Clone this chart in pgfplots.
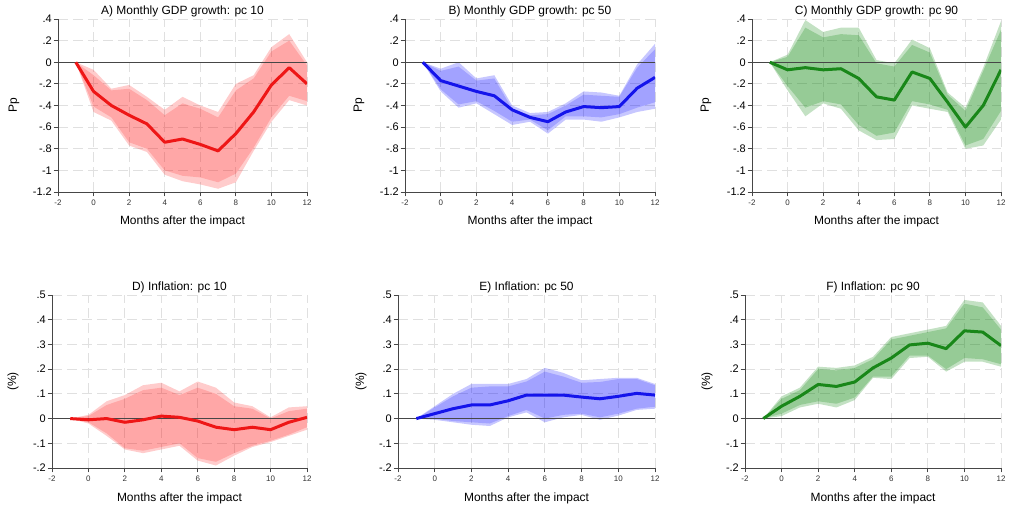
\documentclass[border=0pt]{standalone}
\usepackage{fontspec}
\setmainfont{Liberation Sans}
\usepackage{pgfplots}
\usepackage{pgfplotstable}
\pgfplotsset{compat=1.18}
\usepgfplotslibrary{fillbetween}

\definecolor{cred}{RGB}{255,0,0}
\definecolor{lred}{RGB}{238,22,22}
\definecolor{cblue}{RGB}{0,0,255}
\definecolor{lblue}{RGB}{20,20,235}
\definecolor{cgreen}{RGB}{0,128,0}
\definecolor{lgreen}{RGB}{25,135,25}
\definecolor{axisgray}{RGB}{70,70,70}

% columns: x, point estimate, outer upper, inner upper, inner lower, outer lower
\pgfplotstableread{
x m ou iu il ol
-1 0 0 0 0 0
0 -0.27 -0.07 -0.12 -0.41 -0.46
1 -0.40 -0.245 -0.26 -0.51 -0.54
2 -0.49 -0.21 -0.245 -0.74 -0.77
3 -0.57 -0.32 -0.35 -0.80 -0.83
4 -0.74 -0.44 -0.49 -1.00 -1.04
5 -0.71 -0.32 -0.38 -1.05 -1.10
6 -0.76 -0.40 -0.43 -1.065 -1.13
7 -0.82 -0.46 -0.51 -1.11 -1.17
8 -0.66 -0.20 -0.26 -1.03 -1.11
9 -0.46 -0.12 -0.15 -0.79 -0.82
10 -0.21 0.14 0.10 -0.51 -0.55
11 -0.05 0.26 0.20 -0.31 -0.35
12 -0.20 0.00 -0.03 -0.36 -0.40
}\tA
\pgfplotstableread{
x m ou iu il ol
-1 0 0 0 0 0
0 -0.17 -0.06 -0.08 -0.25 -0.27
1 -0.22 0.00 -0.04 -0.39 -0.42
2 -0.27 -0.15 -0.17 -0.36 -0.38
3 -0.31 -0.12 -0.15 -0.45 -0.48
4 -0.44 -0.40 -0.43 -0.55 -0.58
5 -0.51 -0.47 -0.49 -0.53 -0.55
6 -0.55 -0.46 -0.48 -0.63 -0.66
7 -0.46 -0.38 -0.40 -0.50 -0.53
8 -0.41 -0.27 -0.30 -0.50 -0.53
9 -0.42 -0.28 -0.31 -0.51 -0.55
10 -0.41 -0.31 -0.32 -0.48 -0.51
11 -0.24 -0.02 -0.05 -0.42 -0.46
12 -0.14 0.17 0.12 -0.37 -0.43
}\tB
\pgfplotstableread{
x m ou iu il ol
-1 0 0 0 0 0
0 -0.07 0.07 0.05 -0.22 -0.26
1 -0.05 0.39 0.32 -0.42 -0.50
2 -0.07 0.28 0.23 -0.36 -0.38
3 -0.06 0.32 0.26 -0.39 -0.43
4 -0.15 0.32 0.25 -0.58 -0.63
5 -0.32 0.02 -0.01 -0.68 -0.72
6 -0.35 -0.01 -0.04 -0.65 -0.71
7 -0.09 0.21 0.16 -0.36 -0.40
8 -0.15 0.13 0.09 -0.39 -0.43
9 -0.37 -0.28 -0.30 -0.44 -0.46
10 -0.60 -0.42 -0.45 -0.77 -0.80
11 -0.40 -0.05 -0.08 -0.71 -0.77
12 -0.07 0.38 0.30 -0.45 -0.53
}\tC
\pgfplotstableread{
x m ou iu il ol
-1 0 0 0 0 0
0 -0.005 0.015 0.01 -0.015 -0.02
1 0.0 0.07 0.055 -0.06 -0.07
2 -0.015 0.095 0.08 -0.12 -0.125
3 -0.005 0.135 0.115 -0.13 -0.14
4 0.01 0.145 0.125 -0.115 -0.125
5 0.005 0.11 0.095 -0.10 -0.11
6 -0.01 0.15 0.125 -0.16 -0.17
7 -0.035 0.125 0.10 -0.175 -0.19
8 -0.045 0.065 0.05 -0.14 -0.15
9 -0.035 0.05 0.04 -0.11 -0.115
10 -0.045 0.005 0.0 -0.09 -0.095
11 -0.015 0.045 0.03 -0.065 -0.07
12 0.005 0.05 0.04 -0.035 -0.045
}\tD
\pgfplotstableread{
x m ou iu il ol
-1 0 0 0 0 0
0 0.02 0.05 0.045 0.0 -0.005
1 0.04 0.10 0.09 -0.01 -0.015
2 0.055 0.14 0.125 -0.015 -0.025
3 0.055 0.14 0.13 -0.02 -0.03
4 0.072 0.14 0.13 0.01 0.005
5 0.095 0.16 0.15 0.035 0.025
6 0.095 0.205 0.19 0.0 -0.015
7 0.095 0.185 0.17 0.015 0.005
8 0.087 0.155 0.145 0.02 0.015
9 0.08 0.16 0.148 0.005 -0.005
10 0.09 0.165 0.16 0.02 0.012
11 0.102 0.165 0.16 0.04 0.035
12 0.095 0.14 0.135 0.048 0.04
}\tE
\pgfplotstableread{
x m ou iu il ol
-1 0 0 0 0 0
0 0.05 0.09 0.08 0.02 0.01
1 0.09 0.125 0.115 0.055 0.045
2 0.138 0.21 0.20 0.07 0.06
3 0.13 0.205 0.195 0.06 0.045
4 0.148 0.215 0.205 0.085 0.075
5 0.205 0.25 0.24 0.17 0.165
6 0.245 0.33 0.32 0.17 0.16
7 0.298 0.345 0.335 0.255 0.245
8 0.305 0.36 0.35 0.255 0.25
9 0.283 0.375 0.365 0.20 0.19
10 0.355 0.48 0.465 0.245 0.23
11 0.35 0.47 0.45 0.24 0.23
12 0.295 0.375 0.36 0.22 0.21
}\tF

\pgfplotsset{
  irf/.style={
    scale only axis, anchor=south west, height=173bp,
    xmin=-2, xmax=12, xtick={-2,0,2,4,6,8,10,12},
    xticklabels={-2,0,2,4,6,8,10,12},
    axis x line*=bottom, axis y line*=left,
    axis line style={-, axisgray, line width=0.8bp},
    tick align=outside, major tick length=4.5bp,
    tick style={axisgray, line width=0.8bp},
    grid=major,
    major grid style={dash pattern=on 10bp off 5bp, black!12, line width=0.8bp},
    xticklabel style={font=\fontsize{8}{8}\selectfont, text=black!80},
    yticklabel style={font=\fontsize{11}{11}\selectfont, inner sep=1.5bp},
    title style={font=\fontsize{12}{12}\selectfont, at={(axis description cs:0.5,1)}, anchor=base, yshift=-1.2bp},
    xlabel={Months after the impact},
    xlabel style={font=\fontsize{12}{12}\selectfont, at={(axis description cs:0.5,0)}, anchor=base, yshift=-33bp},
    ylabel style={font=\fontsize{12}{12}\selectfont, anchor=center},
  },
  gdp/.style={ymin=-1.2, ymax=0.4,
    ytick={-1.2,-1,-0.8,-0.6,-0.4,-0.2,0,0.2,0.4},
    yticklabels={-1.2,-1,-.8,-.6,-.4,-.2,0,.2,.4}, ylabel={Pp}},
  inf/.style={ymin=-0.2, ymax=0.5,
    ytick={-0.2,-0.1,0,0.1,0.2,0.3,0.4,0.5},
    yticklabels={-.2,-.1,0,.1,.2,.3,.4,.5}, ylabel={(\%)}},
}

% #1 table, #2 fill colour, #3 outer opacity, #4 inner opacity, #5 line colour, #6 unique prefix
\newcommand{\irf}[6]{%
  \addplot[name path=#6ou, draw=none] table[x=x,y=ou]{#1};
  \addplot[name path=#6ol, draw=none] table[x=x,y=ol]{#1};
  \addplot[name path=#6iu, draw=none] table[x=x,y=iu]{#1};
  \addplot[name path=#6il, draw=none] table[x=x,y=il]{#1};
  \addplot[fill=#2, fill opacity=#3, draw=none] fill between[of=#6ou and #6ol];
  \addplot[fill=#2, fill opacity=#4, draw=none] fill between[of=#6iu and #6il];
  \addplot[axisgray, line width=0.8bp] coordinates {(-2,0) (12,0)};
  \addplot[#5, line width=3bp, line join=round] table[x=x,y=m]{#1};
}

\begin{document}
\begin{tikzpicture}

\begin{axis}[irf, gdp, at={(58bp,322bp)}, width=249bp,
  title={A) Monthly GDP growth: pc 10},
  ylabel style={at={(axis description cs:-0.177,0.5)}}]
\irf{\tA}{cred}{0.2}{0.18}{lred}{a}
\end{axis}

\begin{axis}[irf, gdp, at={(405bp,322bp)}, width=250bp,
  title={B) Monthly GDP growth: pc 50},
  ylabel style={at={(axis description cs:-0.184,0.5)}}]
\irf{\tB}{cblue}{0.22}{0.19}{lblue}{b}
\end{axis}

\begin{axis}[irf, gdp, at={(752bp,322bp)}, width=249bp,
  title={C) Monthly GDP growth: pc 90},
  ylabel style={at={(axis description cs:-0.185,0.5)}}]
\irf{\tC}{cgreen}{0.235}{0.23}{lgreen}{c}
\end{axis}

\begin{axis}[irf, inf, at={(52bp,46bp)}, width=255bp,
  title={D) Inflation: pc 10},
  ylabel style={at={(axis description cs:-0.153,0.5)}}]
\irf{\tD}{cred}{0.2}{0.18}{lred}{d}
\end{axis}

\begin{axis}[irf, inf, at={(398bp,46bp)}, width=257bp,
  title={E) Inflation: pc 50},
  ylabel style={at={(axis description cs:-0.144,0.5)}}]
\irf{\tE}{cblue}{0.22}{0.19}{lblue}{e}
\end{axis}

\begin{axis}[irf, inf, at={(745bp,46bp)}, width=256bp,
  title={F) Inflation: pc 90},
  ylabel style={at={(axis description cs:-0.148,0.5)}}]
\irf{\tF}{cgreen}{0.235}{0.23}{lgreen}{f}
\end{axis}

\pgfresetboundingbox
\path (0,0) rectangle (1024bp,514bp);
\end{tikzpicture}
\end{document}
